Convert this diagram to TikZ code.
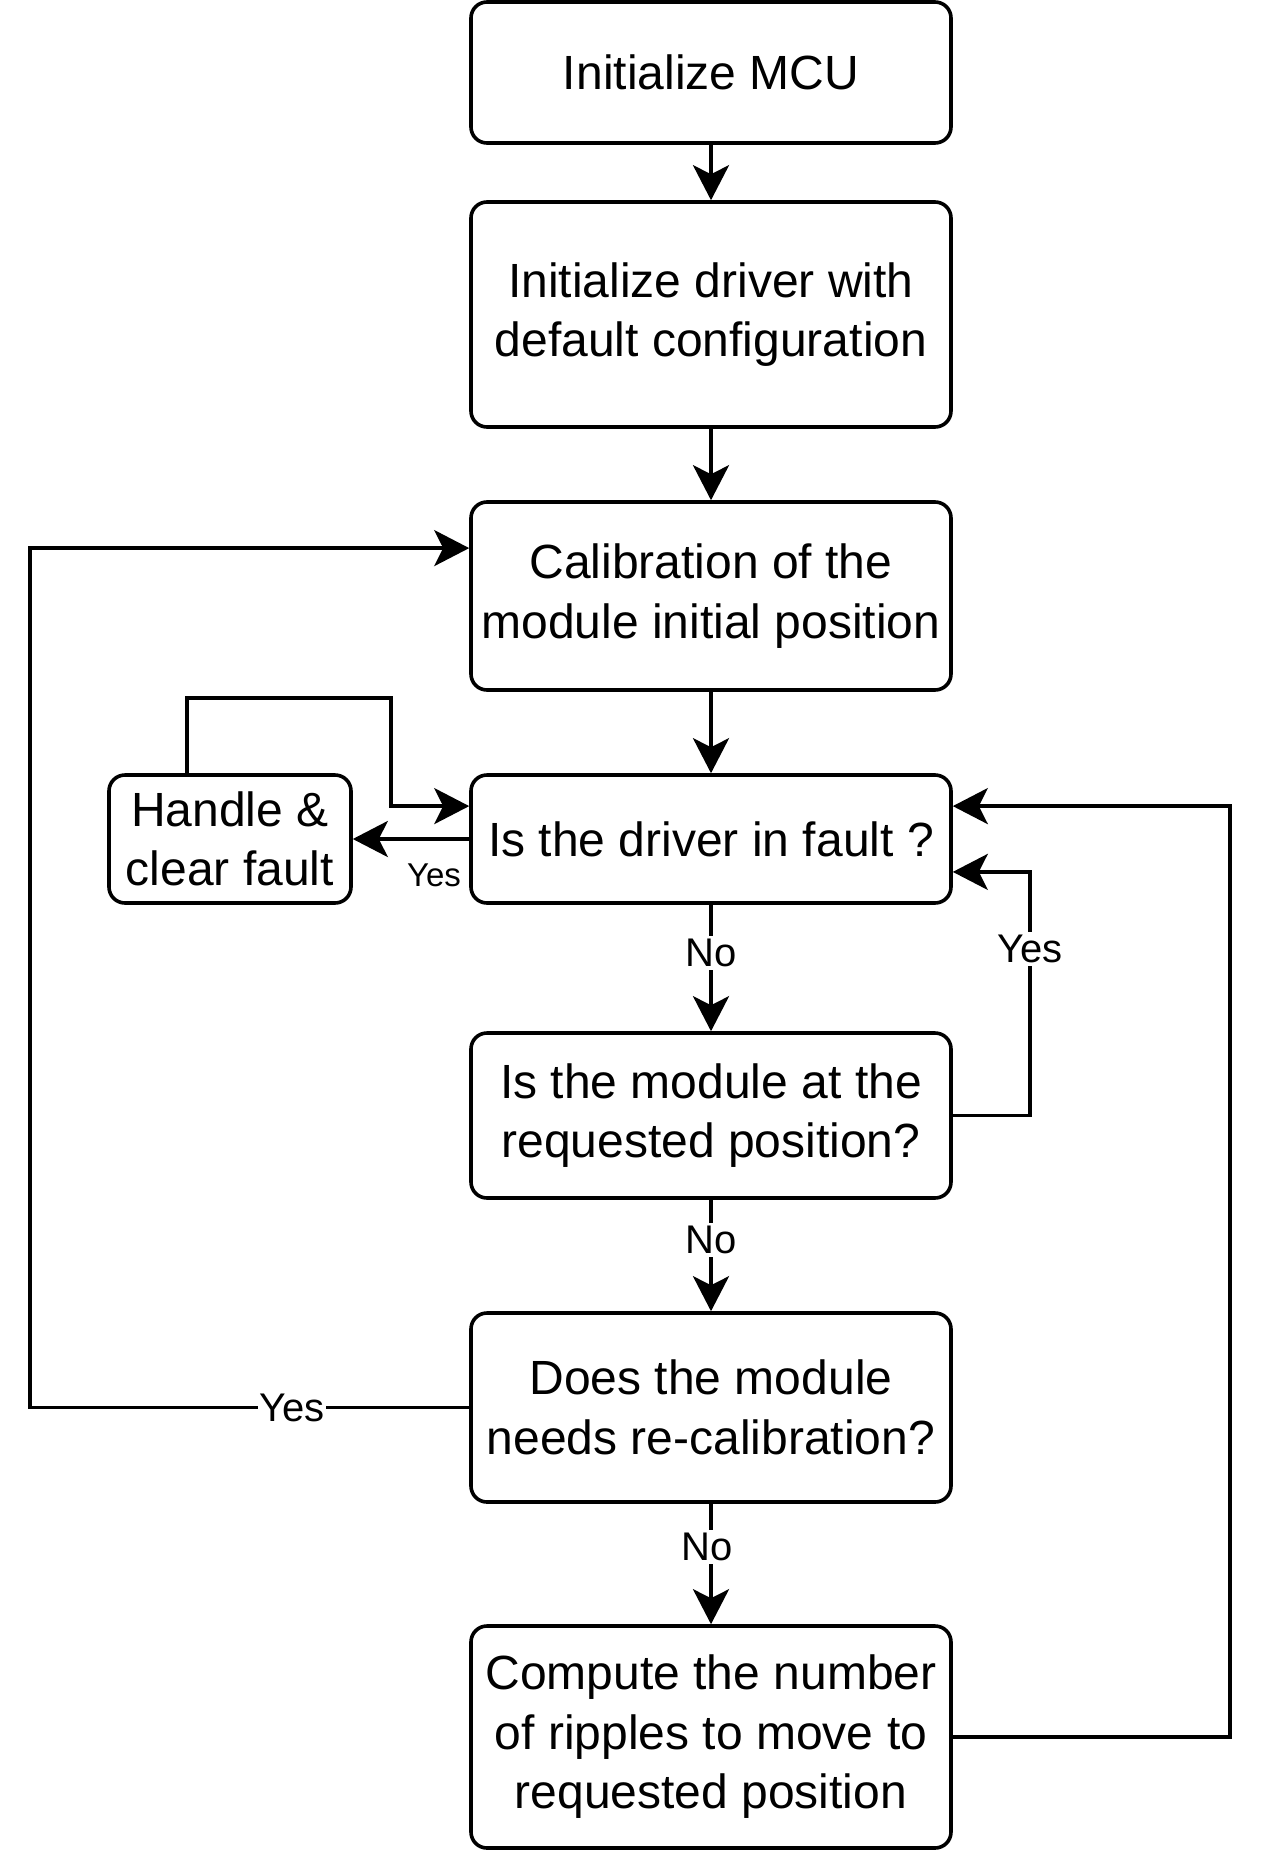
\documentclass[tikz,border=0pt]{standalone}
\usepackage{fontspec}
\setmainfont{Liberation Sans}
\usetikzlibrary{arrows.meta,calc}
\begin{document}
\begin{tikzpicture}[x=1pt,y=-1pt,
  box/.style={draw, line width=3.6pt, rounded corners=16pt, align=center, inner sep=0pt,
    font=\fontsize{48}{59.5}\selectfont, minimum width=480pt},
  conn/.style={line width=3.6pt, -{Stealth[length=35pt,width=36pt,inset=9pt]}},
  lbl/.style={fill=white, inner sep=3pt, font=\fontsize{40}{48}\selectfont},
  slbl/.style={inner sep=0pt, font=\fontsize{33}{40}\selectfont}]
\useasboundingbox (0,0) rectangle (1264,1852);

\node[box, minimum height=141pt] (mcu) at (711,72.5) {Initialize MCU};
\node[box, minimum height=225pt] (drv) at (711,314.5) {Initialize driver with\\default configuration};
\node[box, minimum height=188pt] (cal) at (711,596) {Calibration of the\\module initial position};
\node[box, minimum height=128pt] (flt) at (711,839) {Is the driver in fault ?};
\node[box, minimum height=128pt, minimum width=242pt] (hdl) at (230,839) {Handle \&\\clear fault};
\node[box, minimum height=165pt] (pos) at (711,1115.5) {Is the module at the\\requested position?};
\node[box, minimum height=189pt] (rec) at (711,1407.5) {Does the module\\needs re-calibration?};
\node[box, minimum height=222pt] (cmp) at (711,1737) {Compute the number\\of ripples to move to\\requested position};

% attachment points
\coordinate (calIn) at ($(cal.north west)!0.25!(cal.south west)$);
\coordinate (fltL) at ($(flt.north west)!0.25!(flt.south west)$);
\coordinate (fltR1) at ($(flt.north east)!0.25!(flt.south east)$);
\coordinate (fltR2) at ($(flt.north east)!0.75!(flt.south east)$);
\coordinate (hdlTop) at ($(hdl.north west)!0.326!(hdl.north east)$);
\coordinate (hk) at (391,698);
\coordinate (lk) at (30,1407.5);
\coordinate (rk1) at (1030,1115.5);
\coordinate (rk2) at (1230,1737);

% straight arrows
\draw[conn] (mcu.south) -- (drv.north);
\draw[conn] (drv.south) -- (cal.north);
\draw[conn] (cal.south) -- (flt.north);
\draw[conn] (flt.south) -- node[lbl, pos=0.38] {No} (pos.north);
\draw[conn] (pos.south) -- node[lbl, pos=0.36] {No} (rec.north);
\draw[conn] (rec.south) -- node[lbl, pos=0.36, xshift=-4pt] {No} (cmp.north);

% fault -> handle
\draw[conn] (flt.west) -- (hdl.east);
\node[slbl] (ys) at (434,875) {Yes};

% handle -> fault loop
\draw[conn] (hdlTop) |- (hk) |- (fltL);

% module -> fault (Yes)
\draw[conn] (pos.east) -- (rk1) |- (fltR2);
\node[lbl] (yr) at (1030,949) {Yes};

% recalibration -> calibration (Yes)
\draw[conn] (rec.west) -- (lk) |- (calIn);
\node[lbl, inner sep=1pt] (yl) at (292,1407.5) {Yes};

% compute -> fault
\draw[conn] (cmp.east) -- (rk2) |- (fltR1);
\end{tikzpicture}
\end{document}
